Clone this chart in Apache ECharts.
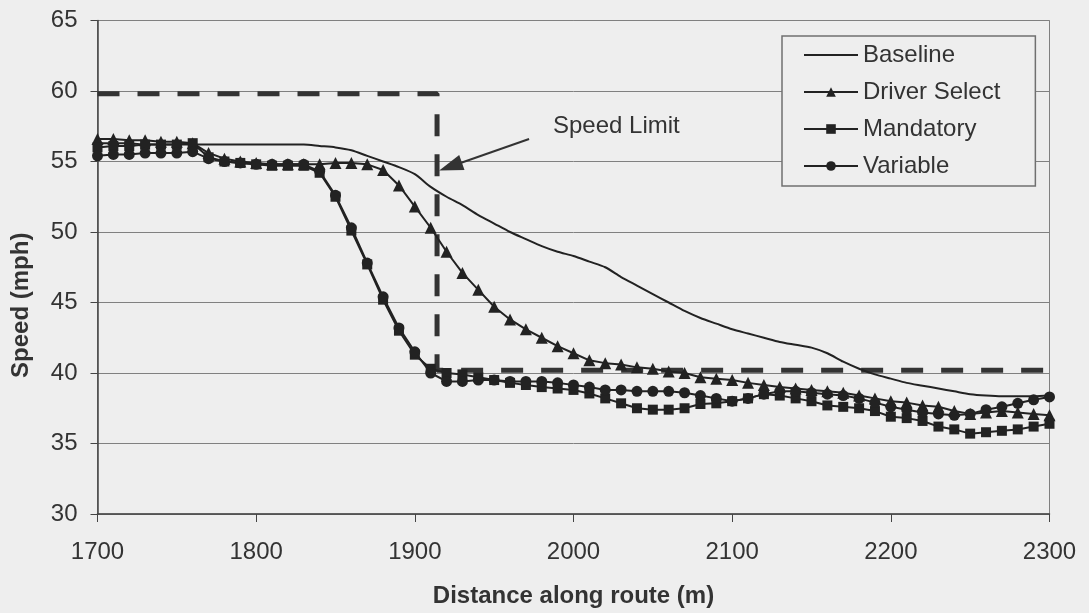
<!DOCTYPE html>
<html>
<head>
<meta charset="utf-8">
<script src="https://cdn.jsdelivr.net/npm/echarts@6/dist/echarts.min.js"></script>
<style>
  html, body { margin: 0; padding: 0; background: #eeeeee; }
  #chart { width: 1089px; height: 613px; }
</style>
</head>
<body>
<div id="chart"></div>
<script>
// ---- data ----
const distance = [1700,1710,1720,1730,1740,1750,1760,1770,1780,1790,
                  1800,1810,1820,1830,1840,1850,1860,1870,1880,1890,
                  1900,1910,1920,1930,1940,1950,1960,1970,1980,1990,
                  2000,2010,2020,2030,2040,2050,2060,2070,2080,2090,
                  2100,2110,2120,2130,2140,2150,2160,2170,2180,2190,
                  2200,2210,2220,2230,2240,2250,2260,2270,2280,2290,2300];

const baseline = [56.3,56.3,56.3,56.2,56.2,56.2,56.2,56.2,56.2,56.2,
                  56.2,56.2,56.2,56.2,56.1,56.0,55.8,55.4,55.0,54.6,
                  54.1,53.2,52.5,51.9,51.2,50.6,50.0,49.5,49.0,48.6,
                  48.3,47.9,47.5,46.8,46.2,45.6,45.0,44.4,43.9,43.5,
                  43.1,42.8,42.5,42.2,42.0,41.8,41.4,40.8,40.3,39.9,
                  39.6,39.3,39.1,38.9,38.7,38.5,38.4,38.35,38.35,38.35,38.4];

const driverSelect = [56.6,56.6,56.5,56.5,56.4,56.4,56.3,55.6,55.2,55.0,
                      54.9,54.8,54.8,54.8,54.8,54.9,54.9,54.8,54.4,53.3,
                      51.8,50.3,48.6,47.1,45.9,44.7,43.8,43.1,42.5,41.9,
                      41.4,40.9,40.7,40.6,40.4,40.3,40.1,40.0,39.7,39.6,
                      39.5,39.3,39.15,39.0,38.9,38.8,38.7,38.6,38.4,38.2,
                      38.0,37.9,37.7,37.6,37.3,37.1,37.2,37.3,37.2,37.1,37.0];

const mandatory = [56.0,56.1,56.1,56.2,56.2,56.2,56.3,55.3,55.0,54.9,
                   54.8,54.7,54.7,54.7,54.2,52.5,50.1,47.7,45.2,43.0,
                   41.3,40.3,40.0,39.9,39.7,39.5,39.3,39.15,39.0,38.9,
                   38.8,38.55,38.2,37.85,37.5,37.4,37.4,37.5,37.8,37.85,
                   38.0,38.2,38.5,38.4,38.2,38.0,37.7,37.6,37.5,37.3,
                   36.9,36.8,36.6,36.2,36.0,35.7,35.8,35.9,36.0,36.2,36.4];

const variable = [55.4,55.5,55.5,55.6,55.6,55.6,55.7,55.2,55.0,54.9,
                  54.8,54.8,54.8,54.8,54.3,52.6,50.3,47.8,45.4,43.2,
                  41.5,40.0,39.4,39.4,39.5,39.5,39.4,39.4,39.4,39.3,
                  39.15,39.0,38.8,38.8,38.7,38.7,38.7,38.6,38.4,38.2,
                  38.0,38.2,38.5,38.7,38.7,38.6,38.5,38.4,38.2,37.9,
                  37.6,37.4,37.2,37.1,37.0,37.1,37.4,37.6,37.85,38.1,38.3];

// speed limit profile (distance, mph)
const speedLimitX = [1700, 1914, 1914, 2300];
const speedLimitY = [59.8, 59.8, 40.2, 40.2];

// annotation
const annotationText = 'Speed Limit';
const annotationTextAt = [2027, 57.5];
const arrowFrom = [1972, 56.6];
const arrowTo = [1922.5, 54.65];

const seriesNames = ['Baseline', 'Driver Select', 'Mandatory', 'Variable'];
const xTitle = 'Distance along route (m)';
const yTitle = 'Speed (mph)';

// ---- chart ----
const FONT = '"Liberation Sans", Arial, sans-serif';
const INK = '#222222';
const pairs = (xs, ys) => xs.map((x, i) => [x, ys[i]]);

const chart = echarts.init(document.getElementById('chart'), null, { renderer: 'canvas' });

const markerSeries = (name, values, symbol, size) => ({
  name: name,
  type: 'line',
  data: pairs(distance, values),
  symbol: symbol,
  symbolSize: size,
  showAllSymbol: true,
  lineStyle: { color: INK, width: 2 },
  itemStyle: { color: INK, borderWidth: 0 },
  z: 3
});

chart.setOption({
  backgroundColor: '#eeeeee',
  animation: false,
  textStyle: { fontFamily: FONT },
  grid: {
    left: 97.5, right: 39.5, top: 20.5, bottom: 99,
    show: true, borderColor: '#808080', borderWidth: 1, backgroundColor: 'transparent'
  },
  legend: {
    data: [
      { name: seriesNames[0], itemStyle: { color: 'rgba(0,0,0,0)', borderWidth: 0, opacity: 0 } },
      seriesNames[1], seriesNames[2], seriesNames[3]
    ],
    orient: 'vertical',
    left: 782, top: 36,
    padding: [6, 35, 7, 21],
    itemGap: 11,
    itemWidth: 54, itemHeight: 12,
    backgroundColor: '#eeeeee',
    borderColor: '#707070', borderWidth: 1.5, borderRadius: 0,
    textStyle: { fontFamily: FONT, fontSize: 24, color: '#333333', lineHeight: 26 }
  },
  xAxis: {
    type: 'value', min: 1700, max: 2300, interval: 100,
    name: xTitle, nameLocation: 'middle', nameGap: 70,
    nameTextStyle: { fontFamily: FONT, fontSize: 24, fontWeight: 'bold', color: '#333333' },
    axisLine: { show: true, lineStyle: { color: '#444444', width: 1.5 } },
    axisTick: { show: true, inside: false, length: 8, lineStyle: { color: '#444444' } },
    axisLabel: { fontFamily: FONT, fontSize: 24, color: '#333333', margin: 26,
                 formatter: (v) => String(v) },
    splitLine: { show: false }
  },
  yAxis: {
    type: 'value', min: 30, max: 65, interval: 5,
    name: yTitle, nameLocation: 'middle', nameGap: 64, nameRotate: 90,
    nameTextStyle: { fontFamily: FONT, fontSize: 24, fontWeight: 'bold', color: '#333333', padding: [0, 76, 0, 0] },
    axisLine: { show: true, lineStyle: { color: '#444444', width: 1.5 } },
    axisTick: { show: true, inside: false, length: 7, lineStyle: { color: '#444444' } },
    axisLabel: { fontFamily: FONT, fontSize: 24, color: '#333333', margin: 20,
                 formatter: (v) => String(v) },
    splitLine: { show: true, lineStyle: { color: '#808080', width: 1 } }
  },
  series: [
    {
      name: 'Speed limit',
      type: 'line',
      data: pairs(speedLimitX, speedLimitY),
      symbol: 'none',
      silent: true,
      lineStyle: { color: '#333333', width: 5, type: [22, 18] },
      z: 2,
      markLine: {
        silent: true,
        symbol: ['none', 'triangle'],
        symbolSize: [16, 24],
        label: { show: false },
        lineStyle: { color: '#333333', width: 2, type: 'solid' },
        itemStyle: { color: '#333333' },
        z: 5,
        data: [[{ coord: arrowFrom }, { coord: arrowTo }]]
      },
      markPoint: {
        silent: true,
        symbol: 'circle', symbolSize: 0,
        label: { show: true, position: 'inside', formatter: annotationText,
                 fontFamily: FONT, fontSize: 24, color: '#333333' },
        data: [{ coord: annotationTextAt }]
      }
    },
    {
      name: seriesNames[0],
      type: 'line',
      data: pairs(distance, baseline),
      symbol: 'none',
      smooth: 0.25,
      lineStyle: { color: INK, width: 2 },
      itemStyle: { color: INK },
      z: 3
    },
    markerSeries(seriesNames[1], driverSelect, 'triangle', 12),
    markerSeries(seriesNames[2], mandatory, 'rect', 10),
    markerSeries(seriesNames[3], variable, 'circle', 11)
  ]
});
</script>
</body>
</html>
